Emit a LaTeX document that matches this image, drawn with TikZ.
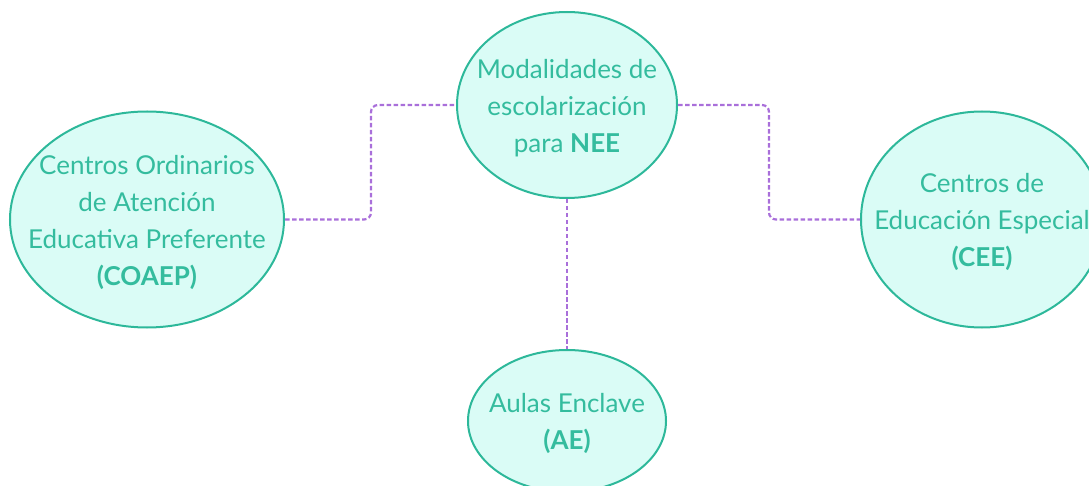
\documentclass[tikz,border=0pt]{standalone}
\usepackage{fontspec}
\setmainfont{Lato}
\usetikzlibrary{shapes.geometric}
\definecolor{teal1}{HTML}{2DB89A}
\definecolor{fillc}{HTML}{DAFCF6}
\definecolor{txtc}{HTML}{34BC9E}
\definecolor{purp}{HTML}{A96FDA}
\tikzset{
  bubble/.style={ellipse, draw=teal1, fill=fillc, line width=2pt, inner sep=0pt},
  label text/.style={text=txtc, align=center, inner sep=0pt, font=\fontsize{26}{37}\selectfont},
  conn/.style={draw=purp, line width=2.2pt, dash pattern=on 4.5pt off 2.5pt, rounded corners=7pt}
}
\begin{document}
\begin{tikzpicture}[x=1pt,y=-1pt]
\useasboundingbox (0,0) rectangle (1089,486);
\node[bubble, minimum width=220pt, minimum height=186pt] (mod) at (567,105) {};
\node[label text] (modt) at (567,108)
  {Modalidades de\\escolarización\\para \textbf{NEE}};
\node[bubble, minimum width=274pt, minimum height=216pt] (coaep) at (147,219.5) {};
\node[label text] (coaept) at (147,222)
  {Centros Ordinarios\\de Atención\\Educativa Preferente\\\textbf{(COAEP)}};
\node[bubble, minimum width=242pt, minimum height=216pt] (cee) at (982,219.5) {};
\node[label text] (ceet) at (982,222)
  {Centros de\\Educación Especial\\\textbf{(CEE)}};
\node[bubble, minimum width=198pt, minimum height=142pt] (ae) at (567,421) {};
\node[label text] (aet) at (567,423)
  {Aulas Enclave\\\textbf{(AE)}};
\draw[conn] (coaep.east) -- ++(86,0) |- (mod.west);
\draw[conn] (mod.east) -- ++(91,0) |- (cee.west);
\draw[conn] (mod.south) -- (ae.north);
\end{tikzpicture}
\end{document}
